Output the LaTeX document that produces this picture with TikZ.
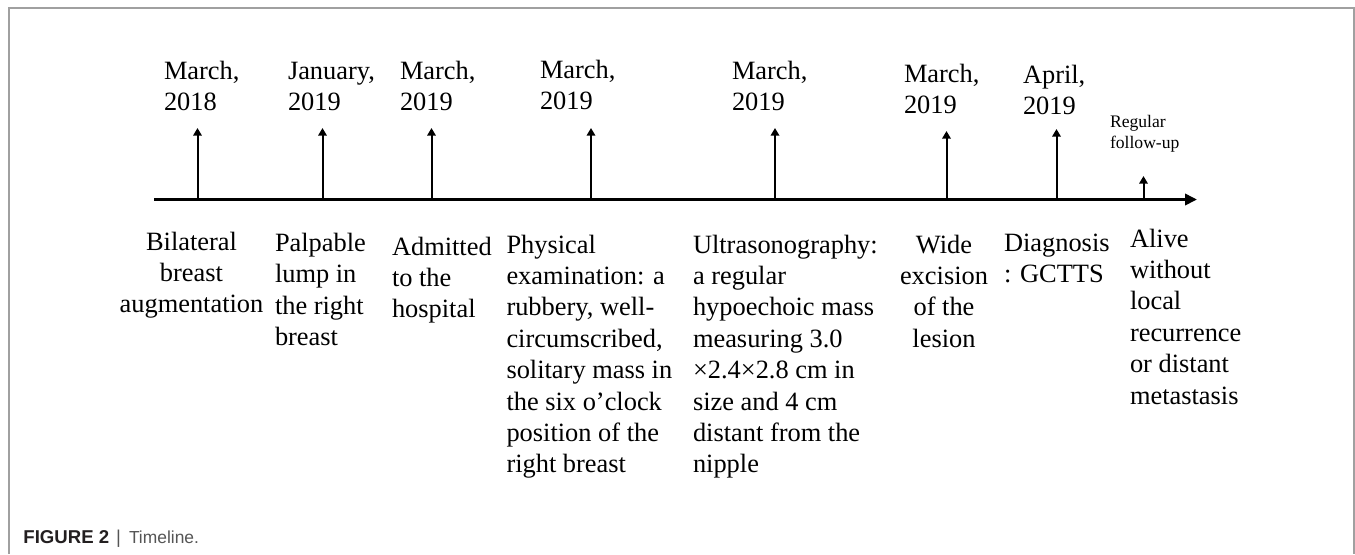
\documentclass[tikz,border=0pt]{standalone}
\usepackage{fontspec}
\setmainfont{Liberation Serif}
\newfontfamily\capfont{Liberation Sans}
\usetikzlibrary{arrows.meta}
\definecolor{framegray}{HTML}{A0A0A0}
\definecolor{capdark}{HTML}{231F20}
\definecolor{capgray}{HTML}{555555}
\tikzset{
  lbl/.style={inner sep=0pt, outer sep=0pt, font=\fontsize{13.2}{15.7}\selectfont},
  smalllbl/.style={inner sep=0pt, outer sep=0pt, font=\fontsize{8.8}{10.5}\selectfont},
  axisline/.style={line width=1.7pt, -{Triangle[length=6pt,width=5.6pt]}},
  tick/.style={line width=1pt, -{Triangle[length=3.8pt,width=4.2pt]}},
  frameline/.style={draw=framegray, line width=0.7pt},
}
\begin{document}
\begin{tikzpicture}[x=0.5pt,y=-0.5pt]
\useasboundingbox (0,0) rectangle (1355,554);
% frame
\draw[frameline] (9,554) -- (9,8) -- (1354,8) -- (1354,554);
% axis
\coordinate (axs) at (154,199.5);
\coordinate (axe) at (1197,199.5);
\draw[axisline] (axs) -- (axe);
% tick coordinates
\foreach \n/\x/\t in {1/197.5/128, 2/322.5/128, 3/431.5/128, 4/591/128, 5/775/128, 6/946.5/131, 7/1056.5/129, 8/1143.5/176}{
  \coordinate (b\n) at (\x,199.5);
  \coordinate (t\n) at (\x,\t);
  \draw[tick] (b\n) -- (t\n);
}
% date labels
\node[lbl, anchor=base west] (d1) at (164,79) {\begin{tabular}[t]{@{}l@{}}March,\\2018\end{tabular}};
\node[lbl, anchor=base west] (d2) at (288,79) {\begin{tabular}[t]{@{}l@{}}January,\\2019\end{tabular}};
\node[lbl, anchor=base west] (d3) at (400,79) {\begin{tabular}[t]{@{}l@{}}March,\\2019\end{tabular}};
\node[lbl, anchor=base west] (d4) at (540,78) {\begin{tabular}[t]{@{}l@{}}March,\\2019\end{tabular}};
\node[lbl, anchor=base west] (d5) at (732,79) {\begin{tabular}[t]{@{}l@{}}March,\\2019\end{tabular}};
\node[lbl, anchor=base west] (d6) at (904,82) {\begin{tabular}[t]{@{}l@{}}March,\\2019\end{tabular}};
\node[lbl, anchor=base west] (d7) at (1023,83) {\begin{tabular}[t]{@{}l@{}}April,\\2019\end{tabular}};
\node[smalllbl, anchor=base west] (d8) at (1110,127) {\begin{tabular}[t]{@{}l@{}}Regular\\follow-up\end{tabular}};
% event labels
\node[lbl, anchor=base] (e1) at (191.5,250) {\begin{tabular}[t]{@{}c@{}}Bilateral\\breast\\augmentation\end{tabular}};
\node[lbl, anchor=base west] (e2) at (275,251.5) {\begin{tabular}[t]{@{}l@{}}Palpable\\lump in\\the right\\breast\end{tabular}};
\node[lbl, anchor=base west] (e3) at (392,255) {\begin{tabular}[t]{@{}l@{}}Admitted\\to the\\hospital\end{tabular}};
\node[lbl, anchor=base west] (e4) at (506.5,253) {\begin{tabular}[t]{@{}l@{}}Physical\\examination: a\\rubbery, well-\\circumscribed,\\solitary mass in\\the six o’clock\\position of the\\right breast\end{tabular}};
\node[lbl, anchor=base west] (e5) at (693,253) {\begin{tabular}[t]{@{}l@{}}Ultrasonography:\\a regular\\hypoechoic mass\\measuring 3.0\\×2.4×2.8 cm in\\size and 4 cm\\distant from the\\nipple\end{tabular}};
\node[lbl, anchor=base] (e6) at (944,253) {\begin{tabular}[t]{@{}c@{}}Wide\\excision\\of the\\lesion\end{tabular}};
\node[lbl, anchor=base west] (e7) at (1004,251) {\begin{tabular}[t]{@{}l@{}}Diagnosis\\: GCTTS\end{tabular}};
\node[lbl, anchor=base west] (e8) at (1130,247) {\begin{tabular}[t]{@{}l@{}}Alive\\without\\local\\recurrence\\or distant\\metastasis\end{tabular}};
% caption
\node[inner sep=0pt, anchor=base west, font=\capfont\fontsize{9.3}{11}\selectfont] (cap) at (23,543)
  {\textcolor{capdark}{\bfseries FIGURE 2}\hspace{3.5pt}\textcolor{capgray}{|\hspace{4pt}\fontsize{8.7}{11}\selectfont Timeline.}};
\end{tikzpicture}
\end{document}
